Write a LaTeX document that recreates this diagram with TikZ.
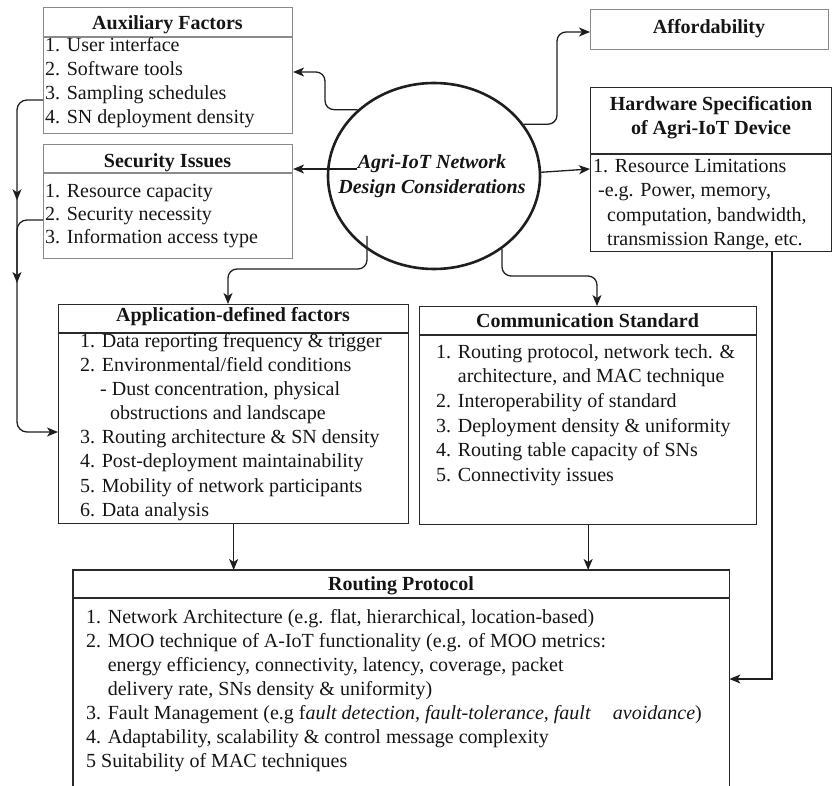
\documentclass[tikz,border=0pt]{standalone}
\usepackage{fontspec}
\setmainfont{Liberation Serif}
\usetikzlibrary{arrows.meta,shapes.geometric,decorations.markings}
\definecolor{boxgray}{HTML}{8A8A8A}
\definecolor{boxdark}{HTML}{2A2A2A}
\definecolor{linec}{HTML}{1E1E1E}
\definecolor{txt}{HTML}{151515}
\newcommand{\fsz}[1]{\fontsize{20}{#1}\selectfont}
\newcommand{\st}{\rule{0pt}{15pt}}
\tikzset{
  gbox/.style={draw=boxgray, line width=1.1pt, inner sep=0pt, anchor=north west},
  kbox/.style={draw=boxdark, line width=1.3pt, inner sep=0pt, anchor=north west},
  gsep/.style={draw=boxgray, line width=1.1pt},
  ksep/.style={draw=boxdark, line width=1.3pt},
  ttl/.style={font=\fsz{24}\bfseries, anchor=base, inner sep=0pt, text=txt},
  bodytxt/.style={align=left, anchor=north west, inner sep=0pt, text=txt},
  arr/.style={-{Stealth[length=11pt,width=9pt,inset=3pt]}, line width=1.3pt, draw=linec},
}
\begin{document}
\begin{tikzpicture}[x=1pt,y=-1pt]
\useasboundingbox (0,0) rectangle (835,786);

% Auxiliary Factors
\node[gbox, minimum width=249pt, minimum height=126pt] (aux) at (43,7) {};
\draw[gsep] (aux.west |- 0,37) -- (aux.east |- 0,37);
\node[ttl] (auxT) at (167.5,30) {Auxiliary Factors};
\node[bodytxt, font=\fsz{24}] (auxB) at (45,36) {\st 1. User interface\\2. Software tools\\3. Sampling schedules\\4. SN deployment density};

% Security Issues
\node[gbox, minimum width=249pt, minimum height=114pt] (sec) at (43,144) {};
\draw[gsep] (sec.west |- 0,173) -- (sec.east |- 0,173);
\node[ttl] (secT) at (167.5,168) {Security Issues};
\node[bodytxt, font=\fsz{23}] (secB) at (45,182) {\st 1. Resource capacity\\2. Security necessity\\3. Information access type};

% Affordability
\node[gbox, minimum width=238pt, minimum height=40pt] (aff) at (590,9) {};
\node[ttl] (affT) at (709,34) {Affordability};

% Hardware Specification
\node[kbox, minimum width=241pt, minimum height=164pt] (hw) at (590,87) {};
\draw[ksep] (hw.west |- 0,154) -- (hw.east |- 0,154);
\node[bodytxt, anchor=north, align=center, font=\fsz{24}\bfseries] (hwT) at (711,95) {\st Hardware Specification\\of Agri-IoT Device};
\node[bodytxt, font=\fsz{24.6}] (hwB) at (593,157) {\st 1. Resource Limitations\\\hspace*{5pt}-e.g. Power, memory,\\\hspace*{14pt}computation, bandwidth,\\\hspace*{14pt}transmission Range, etc.};

% Central ellipse
\node[draw=linec, ellipse, line width=2.6pt, minimum width=212pt, minimum height=186pt, inner sep=0pt] (ell) at (434,176) {};
\node[bodytxt, anchor=north, align=center, font=\fsz{25}\bfseries\itshape] (ellT) at (432,153) {\st Agri-IoT Network\\Design Considerations};

% Application-defined factors
\node[kbox, minimum width=350pt, minimum height=219pt] (app) at (58,304) {};
\draw[ksep] (app.west |- 0,333) -- (app.east |- 0,333);
\node[ttl] (appT) at (233,321) {Application-defined factors};
\node[bodytxt, font=\fsz{24.15}] (appB) at (80,332) {\st 1. Data reporting frequency \& trigger\\2. Environmental/field conditions\\\hspace*{20pt}- Dust concentration, physical\\\hspace*{30pt}obstructions and landscape\\3. Routing architecture \& SN density\\4. Post-deployment maintainability\\5. Mobility of network participants\\6. Data analysis};

% Communication Standard
\node[kbox, minimum width=337pt, minimum height=218pt] (comm) at (419,306) {};
\draw[ksep] (comm.west |- 0,335) -- (comm.east |- 0,335);
\node[ttl] (commT) at (587.5,327) {Communication Standard};
\node[bodytxt, font=\fsz{24.6}] (commB) at (436,343) {\st 1. Routing protocol, network tech. \&\\\phantom{1. }architecture, and MAC technique\\2. Interoperability of standard\\3. Deployment density \& uniformity\\4. Routing table capacity of SNs\\5. Connectivity issues};

% Routing Protocol (bottom edge lies outside the picture)
\node[inner sep=0pt, anchor=north west, minimum width=656pt, minimum height=222pt] (rout) at (73,570) {};
\draw[ksep] (rout.south west) |- (rout.north east) -- (rout.south east);
\draw[ksep] (rout.west |- 0,598) -- (rout.east |- 0,598);
\node[ttl] (routT) at (401,590) {Routing Protocol};
\node[bodytxt, font=\fsz{24}] (routB) at (86,608) {\st 1. Network Architecture (e.g. flat, hierarchical, location-based)\\2. MOO technique of A-IoT functionality (e.g. of MOO metrics:\\\phantom{2. }energy efficiency, connectivity, latency, coverage, packet\\\phantom{2. }delivery rate, SNs density \& uniformity)\\3. Fault Management (e.g f\textit{ault detection, fault-tolerance, fault}\hspace*{22pt}\textit{avoidance})\\4. Adaptability, scalability \& control message complexity\\5 Suitability of MAC techniques};

% Connectors from the ellipse
\coordinate (eS) at (357,169);
\coordinate (eA) at (367,236);
\draw[arr, rounded corners=9pt] (ell.139) -| (325,72) -- (aux.east |- 0,72);
\draw[arr] (eS) -- (sec.east |- 0,169);
\draw[arr, rounded corners=9pt] (ell.30) -| (557,32) -- (aff.west |- 0,32);
\draw[arr] (ell.2) -- (hw.west |- 0,169);
\draw[arr, rounded corners=9pt] (eA) |- (228,269) -- (app.north -| 228,0);
\draw[arr, rounded corners=9pt] (ell.-47) |- (597,276) -- (comm.north -| 597,0);

% Connectors into Routing Protocol
\draw[arr] (app.south) -- (app.south |- rout.north);
\draw[arr] (comm.south) -- (comm.south |- rout.north);
\draw[arr] (hw.south -| 772,0) |- (rout.east |- 0,679);

% Left feedback connectors
\draw[arr, rounded corners=10pt, postaction={decorate}, decoration={markings, mark=at position 122pt with {\arrow{Stealth[length=11pt,width=9pt,inset=3pt]}}}] (aux.west |- 0,100) -| (17,432) -- (app.west |- 0,432);
\draw[arr, rounded corners=10pt] (sec.west |- 0,220) -| (17,283);
\end{tikzpicture}
\end{document}
